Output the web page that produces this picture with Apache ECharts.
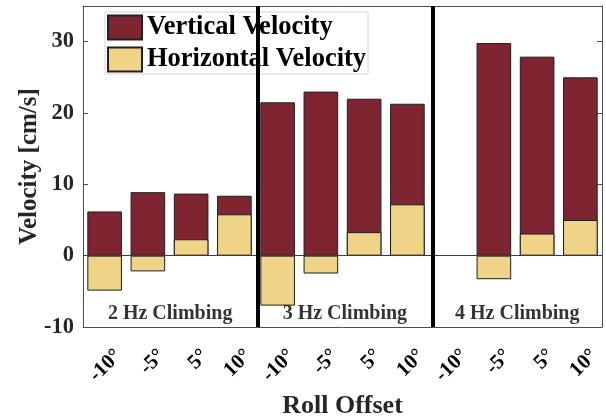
<!DOCTYPE html>
<html>
<head>
<meta charset="utf-8">
<script src="https://cdn.jsdelivr.net/npm/echarts@6/dist/echarts.min.js"></script>
<style>
  html, body { margin: 0; padding: 0; background: #fff; }
  #chart { width: 606px; height: 420px; }
</style>
</head>
<body>
<div id="chart"></div>
<script>
// Roll offset categories (three climbing frequencies, four offsets each)
const rollOffsets = ['-10°', '-5°', '5°', '10°', '-10°', '-5°', '5°', '10°', '-10°', '-5°', '5°', '10°'];

// Mean velocities in cm/s (null = no measurement)
const verticalVelocity   = [6.2, 8.9, 8.7, 8.4, 21.5, 23.0, 22.0, 21.3, null, 29.8, 27.9, 25.0];
const horizontalVelocity = [-4.9, -2.2, 2.3, 5.8, -7.0, -2.5, 3.3, 7.2, null, -3.3, 3.1, 5.0];

// Velocity axis ticks
const yTicks = [-10, 0, 10, 20, 30];
const yMin = -10, yMax = 35;

// Frequency groups and the separator positions between them (in category units, 1-based)
const groupNames = ['2 Hz Climbing', '3 Hz Climbing', '4 Hz Climbing'];
const groupBreaks = [4.53, 8.58];
const groupLabelLevel = -8.2;

const SERIF = '"Liberation Serif", "Times New Roman", serif';
const FRAME = '#4d4d4d';
const RED = '#7f2532';
const GOLD = '#efd487';

const edges = [0.5, ...groupBreaks, rollOffsets.length + 0.5];
const groupLabels = groupNames.map((name, i) => ({
  value: [(edges[i] + edges[i + 1]) / 2, groupLabelLevel],
  name: name
}));

const chart = echarts.init(document.getElementById('chart'), null, { renderer: 'canvas' });

chart.setOption({
  animation: false,
  backgroundColor: '#fff',
  grid: { left: 83, right: 4, top: 6, bottom: 93, containLabel: false, outerBoundsMode: 'none' },
  legend: {
    orient: 'vertical',
    left: 105,
    top: 12,
    itemWidth: 34,
    itemHeight: 24,
    itemGap: 5,
    padding: [2, 2, 1, 2],
    backgroundColor: '#fff',
    borderColor: '#d4d4d4',
    borderWidth: 1,
    icon: 'rect',
    data: ['Vertical Velocity', 'Horizontal Velocity'],
    textStyle: { fontFamily: SERIF, fontWeight: 'bold', fontSize: 26.5, color: '#000', lineHeight: 26 }
  },
  xAxis: [
    {
      type: 'category',
      data: rollOffsets,
      position: 'bottom',
      boundaryGap: true,
      axisLine: { onZero: false, lineStyle: { color: FRAME, width: 1 } },
      axisTick: { inside: true, alignWithLabel: true, length: 5, lineStyle: { color: FRAME } },
      axisLabel: {
        interval: 0,
        rotate: 45,
        margin: 12,
        verticalAlign: 'top',
        padding: [9, 0, 0, 0],
        fontFamily: SERIF, fontWeight: 'bold', fontSize: 21, color: '#000'
      },
      name: 'Roll Offset',
      nameLocation: 'middle',
      nameGap: 64,
      nameTextStyle: { fontFamily: SERIF, fontWeight: 'bold', fontSize: 26, color: '#262626' }
    },
    {
      type: 'category',
      data: rollOffsets,
      position: 'top',
      boundaryGap: true,
      axisLine: { onZero: false, lineStyle: { color: FRAME, width: 1 } },
      axisTick: { inside: true, alignWithLabel: true, length: 5, lineStyle: { color: FRAME } },
      axisLabel: { show: false }
    },
    {
      // continuous twin of the category axis, used for separators and group captions
      type: 'value',
      min: 0.5,
      max: rollOffsets.length + 0.5,
      show: false
    }
  ],
  yAxis: [
    {
      type: 'value',
      min: yMin,
      max: yMax,
      position: 'left',
      splitLine: { show: false },
      axisLine: { show: true, onZero: false, lineStyle: { color: FRAME, width: 1 } },
      axisTick: { show: true, inside: true, length: 5, customValues: yTicks, lineStyle: { color: FRAME } },
      axisLabel: {
        customValues: yTicks,
        margin: 9,
        fontFamily: SERIF, fontWeight: 'bold', fontSize: 22.5, color: '#262626'
      },
      name: 'Velocity [cm/s]',
      nameLocation: 'middle',
      nameGap: 41,
      nameMoveOverlap: false,
      nameTextStyle: { fontFamily: SERIF, fontWeight: 'bold', fontSize: 25, color: '#262626' }
    },
    {
      type: 'value',
      min: yMin,
      max: yMax,
      position: 'right',
      splitLine: { show: false },
      axisLine: { show: true, onZero: false, lineStyle: { color: FRAME, width: 1 } },
      axisTick: { show: true, inside: true, length: 5, customValues: yTicks, lineStyle: { color: FRAME } },
      axisLabel: { show: false }
    }
  ],
  series: [
    {
      name: 'Vertical Velocity',
      type: 'bar',
      xAxisIndex: 0,
      yAxisIndex: 0,
      data: verticalVelocity,
      barCategoryGap: '20%',
      barGap: '-100%',
      itemStyle: { color: RED, borderColor: '#1f1f1f', borderWidth: 1 },
      markLine: {
        silent: true,
        symbol: 'none',
        label: { show: false },
        lineStyle: { color: '#3a3a3a', width: 1, type: 'solid' },
        data: [{ yAxis: 0 }]
      },
      z: 2
    },
    {
      name: 'Horizontal Velocity',
      type: 'bar',
      xAxisIndex: 0,
      yAxisIndex: 0,
      data: horizontalVelocity,
      barCategoryGap: '20%',
      barGap: '-100%',
      itemStyle: { color: GOLD, borderColor: '#1f1f1f', borderWidth: 1 },
      z: 3
    },
    {
      name: 'groups',
      type: 'scatter',
      xAxisIndex: 2,
      yAxisIndex: 0,
      symbolSize: 0,
      silent: true,
      data: groupLabels,
      label: {
        show: true,
        position: 'inside',
        formatter: p => p.name,
        fontFamily: SERIF, fontWeight: 'bold', fontSize: 20, color: '#000'
      },
      markLine: {
        silent: true,
        symbol: 'none',
        label: { show: false },
        lineStyle: { color: '#000', width: 4, type: 'solid' },
        data: groupBreaks.map(b => ({ xAxis: b }))
      },
      z: 4
    }
  ]
});
</script>
</body>
</html>
